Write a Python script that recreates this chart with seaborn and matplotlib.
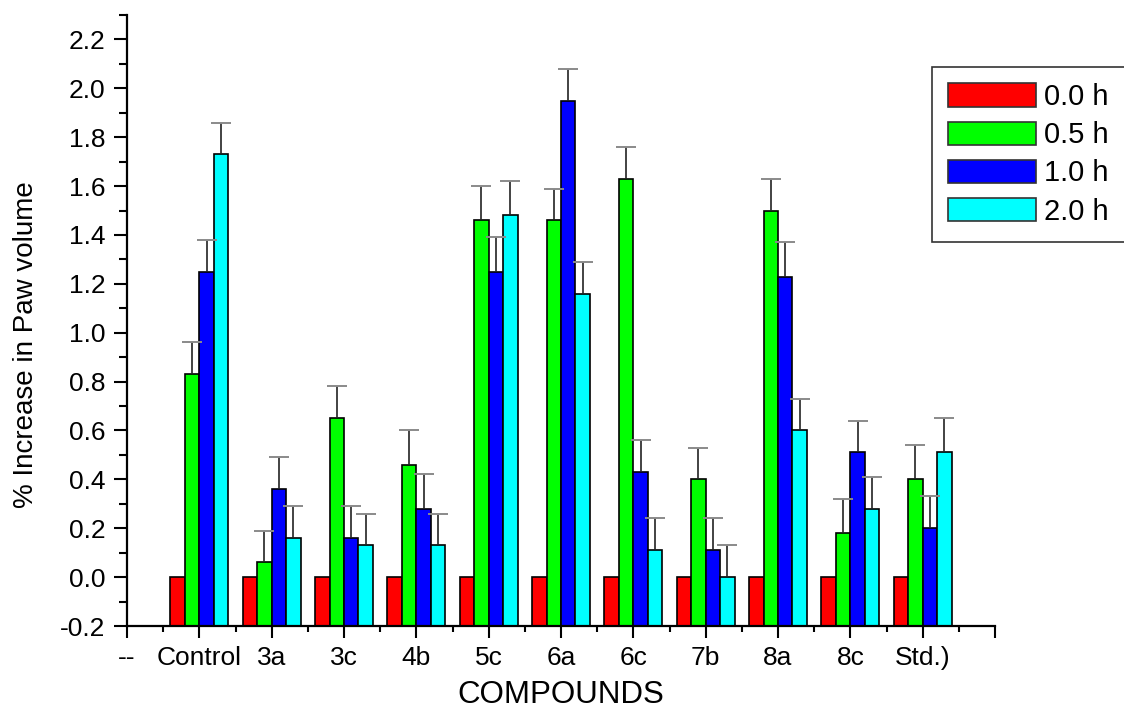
import numpy as np
import pandas as pd
import matplotlib
matplotlib.use("Agg")
import matplotlib.pyplot as plt
from matplotlib.ticker import MultipleLocator
import seaborn as sns

# --- DATA ---
compounds = ["Control", "3a", "3c", "4b", "5c", "6a", "6c", "7b", "8a", "8c", "Std.)"]
times = ["0.0 h", "0.5 h", "1.0 h", "2.0 h"]

vals_00 = [0.00, 0.00, 0.00, 0.00, 0.00, 0.00, 0.00, 0.00, 0.00, 0.00, 0.00]
vals_05 = [0.83, 0.06, 0.65, 0.46, 1.46, 1.46, 1.63, 0.40, 1.50, 0.18, 0.40]
vals_10 = [1.25, 0.36, 0.16, 0.28, 1.25, 1.95, 0.43, 0.11, 1.23, 0.51, 0.20]
vals_20 = [1.73, 0.16, 0.13, 0.13, 1.48, 1.16, 0.11, 0.00, 0.60, 0.28, 0.51]

err_00 = [0.00] * 11
err_05 = [0.13, 0.13, 0.13, 0.14, 0.14, 0.13, 0.13, 0.13, 0.13, 0.14, 0.14]
err_10 = [0.13, 0.13, 0.13, 0.14, 0.14, 0.13, 0.13, 0.13, 0.14, 0.13, 0.13]
err_20 = [0.13, 0.13, 0.13, 0.13, 0.14, 0.13, 0.13, 0.13, 0.13, 0.13, 0.14]

colors = ["#FF0000", "#00FF00", "#0000FF", "#00FFFF"]

# axis categories: blank slot "--" at the start and an empty slot at the end
order = ["--"] + compounds + [" "]

vals = [vals_00, vals_05, vals_10, vals_20]
errs = [err_00, err_05, err_10, err_20]

rows = []
for t, v, e in zip(times, vals, errs):
    for c, vv, ee in zip(compounds, v, e):
        rows.append({"compound": c, "time": t, "value": vv, "err": ee})
df = pd.DataFrame(rows)

sns.set_style("ticks")
plt.rcParams["font.family"] = ["Liberation Sans", "DejaVu Sans"]
plt.rcParams["text.color"] = "black"
plt.rcParams["axes.labelcolor"] = "black"
plt.rcParams["xtick.color"] = "black"
plt.rcParams["ytick.color"] = "black"

fig = plt.figure(figsize=(11.24, 7.08), dpi=100)
ax = fig.add_axes([127 / 1124, 1 - 626 / 708, (995 - 127) / 1124, (626 - 15) / 708])

sns.barplot(data=df, x="compound", y="value", hue="time", order=order,
            hue_order=times, palette=colors, width=0.8, edgecolor="black",
            linewidth=1.2, saturation=1, errorbar=None, ax=ax, legend=True)

ymin = -0.2
err_lookup = {(r.compound, r.time): r.err for r in df.itertuples()}
for t, cont in zip(times, ax.containers):
    xs, tops, es = [], [], []
    for p in cont.patches:
        h = p.get_height()
        if np.isnan(h):
            continue
        cx = p.get_x() + p.get_width() / 2
        comp = order[int(round(cx))]
        # bars rise from the bottom of the axis, as in the original plot
        p.set_y(ymin)
        p.set_height(h - ymin)
        e = err_lookup[(comp, t)]
        if e > 0:
            xs.append(cx)
            tops.append(h)
            es.append(e)
    if xs:
        _, caps, _ = ax.errorbar(xs, tops, yerr=[np.zeros(len(es)), es], fmt="none",
                                 ecolor="#222222", elinewidth=1.2, capsize=7,
                                 capthick=1.4, zorder=3)
        caps[0].set_visible(False)
        for c in caps:
            c.set_markeredgecolor("#8a8a8a")

ax.set_xlim(0, 12)
ax.set_ylim(-0.2, 2.3)
ax.set_yticks(np.arange(-0.2, 2.21, 0.2))
ax.set_yticklabels([f"{v:.1f}" for v in np.arange(-0.2, 2.21, 0.2)])
ax.yaxis.set_minor_locator(MultipleLocator(0.1))
ax.xaxis.set_minor_locator(MultipleLocator(0.5))

ax.tick_params(axis="both", which="major", direction="out", width=1.5, labelsize=19,
               color="black", labelcolor="black")
ax.tick_params(axis="y", which="major", length=9.5, pad=6)
ax.tick_params(axis="x", which="major", length=8.5, pad=6)
ax.tick_params(axis="y", which="minor", length=5.5, width=1.5)
ax.tick_params(axis="x", which="minor", length=4.5, width=1.5)

for s in ["top", "right"]:
    ax.spines[s].set_visible(False)
for s in ["left", "bottom"]:
    ax.spines[s].set_linewidth(1.6)
    ax.spines[s].set_color("black")

ax.set_xlabel("COMPOUNDS", fontsize=22.5, color="black")
ax.xaxis.set_label_coords(0.5, -0.088)
ax.set_ylabel("% Increase in Paw volume", fontsize=20, color="black")
ax.yaxis.set_label_coords(-0.101, 0.46)

ax.legend_.remove()
handles = [plt.Rectangle((0, 0), 1, 1, facecolor=c, edgecolor="#333333", linewidth=1.2)
           for c in colors]
leg = fig.legend(handles, times, loc="upper left",
                 bbox_to_anchor=(932 / 1124, 1 - 67 / 708), fontsize=21,
                 frameon=True, fancybox=False, edgecolor="black",
                 handlelength=3.0, handleheight=0.85, labelspacing=0.35,
                 handletextpad=0.3, borderpad=0.55, borderaxespad=0)
leg.get_frame().set_linewidth(1.2)
for txt in leg.get_texts():
    txt.set_color("black")

fig.savefig("out.png", dpi=100)
